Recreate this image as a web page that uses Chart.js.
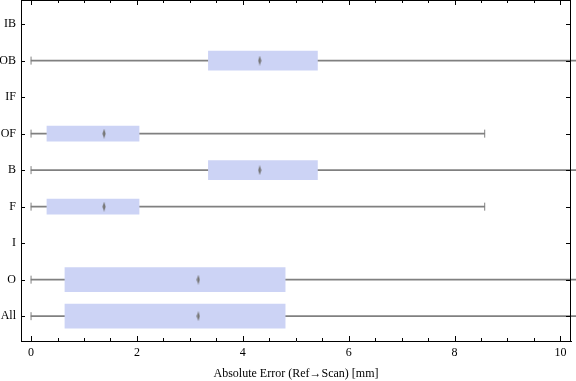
<!DOCTYPE html>
<html>
<head>
<meta charset="utf-8">
<script src="https://cdn.jsdelivr.net/npm/chart.js@4/dist/chart.umd.min.js"></script>
<style>
html,body{margin:0;padding:0;background:#fff;}
canvas{display:block;}
</style>
</head>
<body>
<canvas id="c" width="576" height="381"></canvas>
<script>
// ---- data ----
const categories = ['IB','OB','IF','OF','B','F','I','O','All'];
const whiskerMin = [null, 0,    null, 0,    0,    0,    null, 0,    0   ];
const q1         = [null, 3.35, null, 0.30, 3.35, 0.30, null, 0.64, 0.64];
const median     = [null, 4.32, null, 1.38, 4.32, 1.38, null, 3.16, 3.16];
const q3         = [null, 5.41, null, 2.04, 5.41, 2.04, null, 4.80, 4.80];
const whiskerMax = [null, 11,   null, 8.57, 11,   8.57, null, 11,   11  ];
const xTickValues = [0, 2, 4, 6, 8, 10];

// ---- styles ----
const boxThicknessByCat = {OB:19, B:19, OF:15, F:15, O:24, All:24};
const BOX_COLOR = 'rgb(204,211,245)';
const GRAY = '#808080';
const FONT = "'Liberation Serif', 'Times New Roman', serif";

function idx(arr){ return arr.map((v,i)=>v==null?null:i).filter(v=>v!=null); }
const present = idx(q1);

const whiskerData = present.map(i=>({y:i, x:[whiskerMin[i], whiskerMax[i]]}));
const capData = [];
present.forEach(i=>{ capData.push({x:whiskerMin[i], y:i}); capData.push({x:whiskerMax[i], y:i}); });
const medianData = present.map(i=>({x:median[i], y:i}));

const groups = {};
present.forEach(i=>{
  const t = boxThicknessByCat[categories[i]];
  (groups[t] = groups[t] || []).push({y:i, x:[q1[i], q3[i]]});
});
const boxDatasets = Object.keys(groups).map(t=>({
  type:'bar', indexAxis:'y', data:groups[t], grouped:false,
  backgroundColor:BOX_COLOR, borderWidth:0, barThickness:+t, order:2
}));

const dia = document.createElement('canvas');
dia.width = 4; dia.height = 10;
(function(){
  const g = dia.getContext('2d');
  g.fillStyle = '#777';
  g.beginPath(); g.moveTo(2,0); g.lineTo(3.6,5); g.lineTo(2,10); g.lineTo(0.4,5); g.closePath(); g.fill();
})();

const framePlugin = {
  id:'frame',
  afterDraw(chart){
    const {ctx, chartArea:a, scales:{x, y}} = chart;
    ctx.save();
    ctx.strokeStyle = '#000';
    ctx.lineWidth = 1;
    ctx.beginPath();
    ctx.moveTo(a.left, a.top+0.5); ctx.lineTo(a.right, a.top+0.5);
    ctx.moveTo(a.right-0.5, a.top); ctx.lineTo(a.right-0.5, a.bottom);
    ctx.stroke();
    ctx.beginPath();
    for (let k=0; k<=20; k++){
      const v = k*0.5;
      const px = Math.round(x.getPixelForValue(v)) + 0.5;
      const L = (xTickValues.includes(v)) ? 5 : 3;
      ctx.moveTo(px, a.bottom); ctx.lineTo(px, a.bottom - L);
      ctx.moveTo(px, a.top); ctx.lineTo(px, a.top + L);
    }
    categories.forEach((c,i)=>{
      const py = Math.round(y.getPixelForValue(i)) + 0.5;
      ctx.moveTo(a.left, py); ctx.lineTo(a.left + 4, py);
      ctx.moveTo(a.right, py); ctx.lineTo(a.right - 5, py);
    });
    ctx.stroke();
    ctx.restore();
  }
};

new Chart(document.getElementById('c'), {
  type:'bar',
  data:{
    datasets:[
      {type:'bar', indexAxis:'y', data:whiskerData, grouped:false, backgroundColor:GRAY,
       borderWidth:0, barThickness:1, order:3, clip:{left:0, top:0, right:5, bottom:0}},
      ...boxDatasets,
      {type:'scatter', data:capData, pointStyle:'line', rotation:90, radius:4,
       borderColor:GRAY, borderWidth:1, order:1},
      {type:'scatter', data:medianData, pointStyle:dia, radius:5, order:0}
    ]
  },
  options:{
    responsive:false,
    animation:false,
    layout:{autoPadding:false, padding:{top:0, right:5, left:0, bottom:0}},
    plugins:{legend:{display:false}, tooltip:{enabled:false}},
    scales:{
      x:{
        type:'linear', min:-0.19, max:10.2, offset:false, beginAtZero:false,
        grid:{display:false, drawTicks:false, offset:false},
        border:{display:true, color:'#000', width:1},
        ticks:{stepSize:2, includeBounds:false, padding:5, color:'#000',
               font:{family:FONT, size:12}},
        afterBuildTicks(s){ s.ticks = xTickValues.map(v=>({value:v})); },
        title:{display:true, text:'Absolute Error (Ref\u2192Scan) [mm]', color:'#000',
               font:{family:FONT, size:12}, padding:{top:4, bottom:0}},
        afterFit(s){ s.height = 40; s.paddingLeft = 0; s.paddingRight = 0; }
      },
      y:{
        type:'linear', reverse:true, min:-0.66, max:8.68, offset:false, beginAtZero:false,
        grid:{display:false, drawTicks:false, offset:false},
        border:{display:true, color:'#000', width:1},
        ticks:{padding:5, color:'#000', font:{family:FONT, size:12},
               callback:(v)=>categories[v] ?? ''},
        afterBuildTicks(s){ s.ticks = categories.map((c,i)=>({value:i})); },
        afterFit(s){ s.width = 21; s.paddingTop = 0; s.paddingBottom = 0; }
      }
    }
  },
  plugins:[framePlugin]
});
</script>
</body>
</html>
